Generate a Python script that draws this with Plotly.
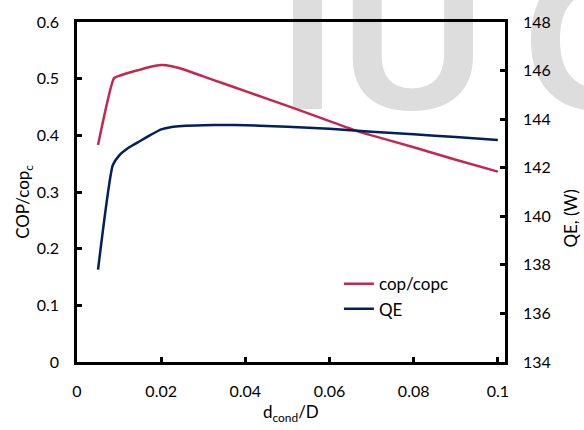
import plotly.graph_objects as go

# ---- data ----
x_cop = [0.005, 0.0088, 0.01, 0.0125, 0.015, 0.0175, 0.02, 0.0225, 0.025, 0.03,
         0.035, 0.04, 0.05, 0.06, 0.0664, 0.07, 0.08, 0.09, 0.1]
cop_ratio = [0.383, 0.501, 0.505, 0.511, 0.516, 0.521, 0.524, 0.522, 0.517, 0.504,
             0.491, 0.478, 0.452, 0.425, 0.408, 0.400, 0.379, 0.357, 0.336]

x_qe = [0.005, 0.0085, 0.01, 0.0125, 0.015, 0.0175, 0.02, 0.0225, 0.025, 0.03,
        0.035, 0.04, 0.05, 0.06, 0.07, 0.08, 0.09, 0.1]
qe = [137.8, 142.1, 142.5, 142.85, 143.1, 143.35, 143.58, 143.68, 143.72, 143.75,
      143.76, 143.75, 143.69, 143.60, 143.48, 143.38, 143.26, 143.14]

x_ticks = [0, 0.02, 0.04, 0.06, 0.08, 0.1]
x_ticklabels = ["0", "0.02", "0.04", "0.06", "0.08", "0.1"]

RED = "#C3284E"
BLUE = "#002060"
FONT = "Lato"

fig = go.Figure()
fig.add_trace(go.Scatter(x=x_cop, y=cop_ratio, name="cop/copc", mode="lines",
                         line=dict(color=RED, width=2.5, shape="spline", smoothing=0.5),
                         yaxis="y"))
fig.add_trace(go.Scatter(x=x_qe, y=qe, name="QE", mode="lines",
                         line=dict(color=BLUE, width=2.5, shape="spline", smoothing=0.5),
                         yaxis="y2"))

axis_common = dict(showgrid=False, zeroline=False, showline=True, linecolor="black",
                   linewidth=2.5, ticks="inside", ticklen=5, tickwidth=2.5,
                   tickcolor="black", tickfont=dict(family=FONT, size=16, color="black"))

fig.update_layout(
    width=584, height=430,
    margin=dict(l=77, r=79, t=17, b=68),
    paper_bgcolor="white", plot_bgcolor="rgba(0,0,0,0)",
    xaxis=dict(range=[0, 0.1017], tickvals=x_ticks, ticktext=x_ticklabels,
               mirror=True, ticklabelstandoff=13, **axis_common),
    yaxis=dict(range=[0, 0.6], dtick=0.1, ticklabelstandoff=12, **axis_common),
    yaxis2=dict(range=[134, 148], dtick=2, overlaying="y", side="right",
                ticklabelstandoff=12, **axis_common),
    showlegend=True,
    legend=dict(x=0.612, y=0.192, xanchor="left", yanchor="middle",
                bgcolor="rgba(0,0,0,0)", font=dict(family=FONT, size=17, color="black")),
)

# axis titles
fig.add_annotation(text="COP/cop<sub>c</sub>", xref="paper", yref="paper",
                   x=-0.155, y=0.47, textangle=-90, showarrow=False,
                   font=dict(family=FONT, size=17, color="black"))
fig.add_annotation(text="QE, (W)", xref="paper", yref="paper",
                   x=1.183, y=0.33, textangle=-90, showarrow=False,
                   font=dict(family=FONT, size=17, color="black"))
fig.add_annotation(text="d<sub>cond</sub>/D", xref="paper", yref="paper",
                   x=0.5, y=-0.19, showarrow=False,
                   font=dict(family=FONT, size=17, color="black"))

# watermark letters (drawn below everything)
for letter, cx in [("I", 0.5386), ("U", 0.785), ("C", 1.21)]:
    fig.add_shape(type="rect", xref="paper", yref="paper",
                  x0=cx - 0.01, x1=cx + 0.01, y0=0.993, y1=1.013,
                  line=dict(width=0), fillcolor="rgba(0,0,0,0)", layer="below",
                  label=dict(text=letter, textposition="middle center",
                             font=dict(family="Liberation Sans", size=200, color="#DDDDDD",
                                       weight="bold")))

fig.write_html("out.html")
